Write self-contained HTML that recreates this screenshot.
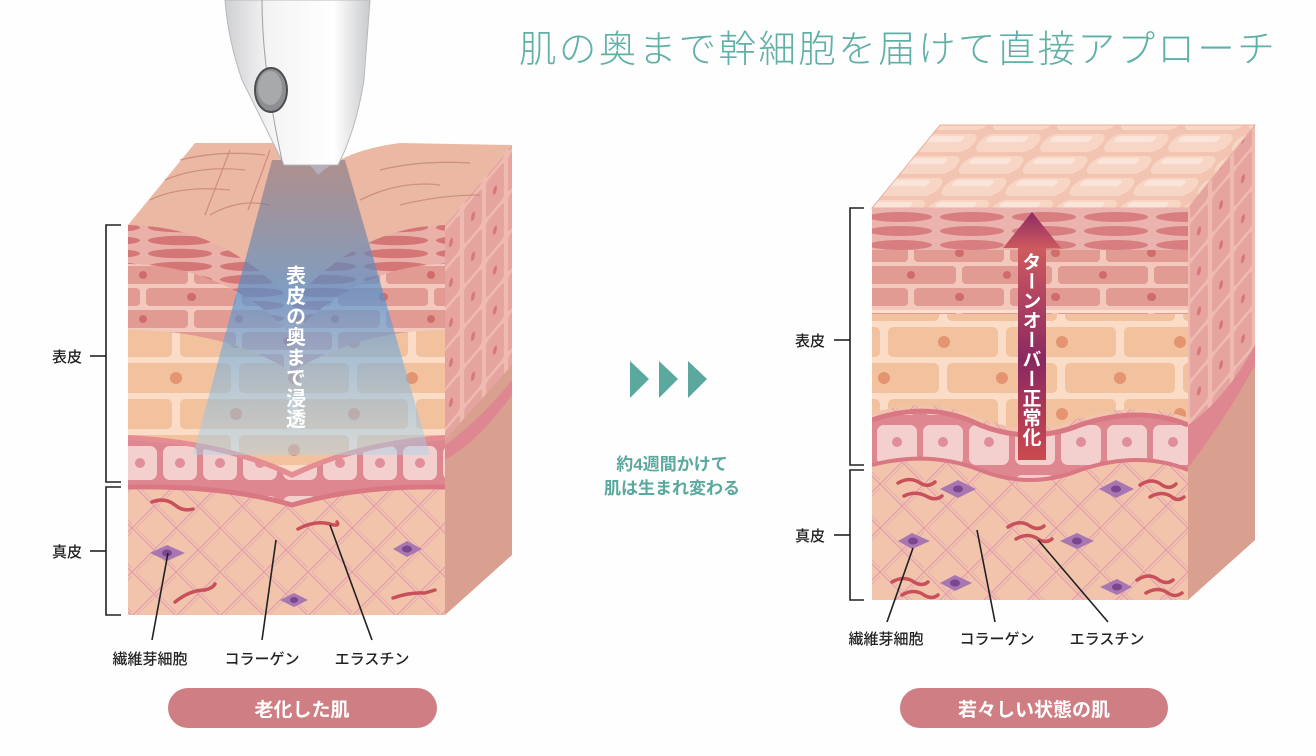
<!DOCTYPE html>
<html><head><meta charset="utf-8"><style>
html,body{margin:0;padding:0;background:#fefefe;}
svg{display:block;}
text{font-family:"Liberation Sans","Noto Sans CJK JP",sans-serif;}
</style></head><body>
<svg width="1316" height="756" viewBox="0 0 1316 756" xmlns="http://www.w3.org/2000/svg">
<defs>
<pattern id="corn" width="72" height="13" patternUnits="userSpaceOnUse"><rect width="72" height="13" fill="#eab0aa"/><ellipse cx="36" cy="6.5" rx="32" ry="4.8" fill="#d57676"/></pattern>
<pattern id="corn2" width="72" height="14" patternUnits="userSpaceOnUse"><rect width="72" height="14" fill="#ebb3ad"/><ellipse cx="36" cy="7" rx="32" ry="5" fill="#d97e80"/></pattern>
<pattern id="gran" width="96" height="44" patternUnits="userSpaceOnUse"><rect width="96" height="44" fill="#f4c9bd"/>
<rect x="2" y="2" width="90" height="18" rx="4" fill="#e29b92"/><circle cx="47" cy="11" r="4" fill="#d06c6a"/>
<rect x="-46" y="24" width="90" height="18" rx="4" fill="#e29b92"/><rect x="50" y="24" width="90" height="18" rx="4" fill="#e29b92"/><circle cx="95" cy="33" r="4" fill="#d06c6a"/><circle cx="0" cy="33" r="4" fill="#d06c6a"/></pattern>
<pattern id="spin" width="118" height="72" patternUnits="userSpaceOnUse"><rect width="118" height="72" fill="#fbdcc6"/>
<rect x="3" y="3" width="110" height="30" rx="5" fill="#f2c29e"/><circle cx="58" cy="18" r="6" fill="#e59472"/>
<rect x="-56" y="39" width="110" height="30" rx="5" fill="#f2c29e"/><rect x="62" y="39" width="110" height="30" rx="5" fill="#f2c29e"/><circle cx="0" cy="54" r="6" fill="#e59472"/><circle cx="118" cy="54" r="6" fill="#e59472"/></pattern>
<pattern id="basal" x="0" y="440" width="40" height="50" patternUnits="userSpaceOnUse"><rect width="40" height="50" fill="#de8791"/><rect x="3" y="6" width="34" height="34" rx="7" fill="#f3d0ce"/><circle cx="20" cy="23" r="5" fill="#e08e9b"/></pattern>
<pattern id="basal2" x="0" y="420" width="46" height="50" patternUnits="userSpaceOnUse"><rect width="46" height="50" fill="#de8791"/><rect x="3" y="5" width="40" height="40" rx="7" fill="#f3d0ce"/><circle cx="23" cy="22" r="5" fill="#e08e9b"/></pattern>
<pattern id="derm" width="44" height="44" patternUnits="userSpaceOnUse"><rect width="44" height="44" fill="#f1c4ab"/>
<path d="M0 0L44 44M-22 22L22 66M22 -22L66 22M44 0L0 44M22 -22L-22 22M66 22L22 66" stroke="#e39aae" stroke-width="1.1" fill="none"/>
<path d="M4 0L48 44M48 0L4 44" stroke="#e8a9b7" stroke-width="0.8" fill="none"/></pattern>
<pattern id="side" width="22" height="40" patternUnits="userSpaceOnUse" patternTransform="skewY(-50)"><rect width="22" height="40" fill="#efbab0"/><rect x="2" y="2" width="18" height="36" rx="3" fill="#e5a49f"/><ellipse cx="11" cy="20" rx="2" ry="4" fill="#d77878"/></pattern>
<pattern id="tiles" width="64" height="22" patternUnits="userSpaceOnUse" patternTransform="skewX(-38)"><rect width="64" height="22" fill="#f2c4b1"/><rect x="2" y="2" width="60" height="18" rx="9" fill="#f7d6c6"/><rect x="8" y="4" width="40" height="6" rx="3" fill="#fbe5da"/></pattern>
<linearGradient id="cone" x1="0" y1="0" x2="0" y2="1"><stop offset="0" stop-color="#7d6e7c" stop-opacity="0.55"/><stop offset="0.45" stop-color="#4f92d0" stop-opacity="0.7"/><stop offset="1" stop-color="#a9d4ec" stop-opacity="0.45"/></linearGradient>
<linearGradient id="arr" x1="0" y1="0" x2="0" y2="1"><stop offset="0" stop-color="#8c2a64"/><stop offset="0.15" stop-color="#cf5a5e"/><stop offset="0.6" stop-color="#8a2862"/><stop offset="1" stop-color="#cc4a4e"/></linearGradient>
<linearGradient id="dev" x1="0" y1="0" x2="1" y2="0"><stop offset="0" stop-color="#cfd0d2"/><stop offset="0.3" stop-color="#f4f4f5"/><stop offset="0.75" stop-color="#ffffff"/><stop offset="1" stop-color="#c9cacc"/></linearGradient>
<clipPath id="lfront"><path d="M128,225 Q225,226 292,302 Q360,226 445,225 L445,615 L128,615Z"/></clipPath>
<clipPath id="rfront"><rect x="872" y="208" width="316" height="392"/></clipPath>
</defs>

<text x="519" y="62" font-size="37.5" fill="#5fb0a6" letter-spacing="2.4" style="font-family:'Noto Sans CJK JP',sans-serif;font-weight:300">肌の奥まで幹細胞を届けて直接アプローチ</text>

<!-- LEFT CUBE -->
<path d="M445,225 L512,145 L512,555 L445,615Z" fill="url(#side)"/>
<path d="M445,440 L512,365 L512,555 L445,615Z" fill="#d9a08f"/>
<path d="M445,445 Q480,420 512,380 L512,395 Q480,440 445,460Z" fill="#de8791"/>
<path d="M128,225 L195,143 L275,143 Q300,150 318,175 Q345,150 400,143 L512,145 L445,225 Q360,226 292,302 Q225,226 128,225Z" fill="#ebb9a3"/>
<g stroke="#c88674" stroke-width="1.3" fill="none" opacity="0.8">
<path d="M150,200 Q180,185 230,190 M165,180 Q200,165 245,170 M180,160 Q220,150 265,155 M210,215 Q240,198 270,205 M360,200 Q400,180 440,185 M380,170 Q420,160 470,163 M400,205 Q440,195 480,195 M230,150 L205,215 M270,150 L248,210"/>
</g>
<g clip-path="url(#lfront)">
<rect x="128" y="220" width="317" height="400" fill="url(#derm)"/>
<path d="M128,225 Q225,226 292,302 Q360,226 445,225 L445,487 Q360,485 292,505 Q225,485 128,487Z" fill="url(#basal)"/>
<path d="M128,487 Q225,485 292,505 Q360,485 445,487" stroke="#d97883" stroke-width="5" fill="none"/>
<path d="M128,225 Q225,226 292,302 Q360,226 445,225 L445,440 Q360,445 292,478 Q225,445 128,440Z" fill="#e48e94"/>
<path d="M128,225 Q225,226 292,302 Q360,226 445,225 L445,435 Q360,440 292,472 Q225,440 128,435Z" fill="url(#spin)"/>
<path d="M128,225 Q225,226 292,302 Q360,226 445,225 L445,330 Q360,330 292,372 Q225,330 128,330Z" fill="url(#gran)"/>
<path d="M128,225 Q225,226 292,302 Q360,226 445,225 L445,264 Q360,265 292,335 Q225,265 128,264Z" fill="url(#corn)"/>
</g>
<g fill="#a877b2"><path d="M150,553 L167,545 L185,553 L167,561Z"/><path d="M393,549 L407,541 L422,549 L407,557Z"/><path d="M280,600 L294,593 L308,600 L294,607Z"/></g>
<g fill="#7b4590"><ellipse cx="167" cy="553" rx="5" ry="3.5"/><ellipse cx="407" cy="549" rx="5" ry="3.5"/><ellipse cx="294" cy="600" rx="4" ry="3"/></g>
<g stroke="#c9505a" stroke-width="3.5" fill="none" stroke-linecap="round">
<path d="M152,502 Q165,497 175,505 Q183,512 193,509"/><path d="M298,529 Q315,520 330,524 Q340,527 337,522"/><path d="M175,602 Q190,590 205,590 Q213,588 215,584"/><path d="M393,598 Q410,592 425,593 Q435,590 435,590"/></g>
<polygon points="272,160 345,160 430,455 193,455" fill="url(#cone)"/>
<text x="296" y="265" font-size="20" fill="#fff" style="writing-mode:vertical-rl;font-family:'Noto Sans CJK JP',sans-serif;font-weight:700" letter-spacing="0.5">表皮の奥まで浸透</text>
<path d="M225,0 L370,0 L364,80 Q356,130 338,165 L284,165 Q262,120 242,80 Q228,40 225,0Z" fill="url(#dev)" stroke="#b8b9bb" stroke-width="1"/>
<path d="M262,0 Q262,70 283,165" stroke="#a0a1a3" stroke-width="1" fill="none"/>
<ellipse cx="271" cy="90" rx="16" ry="22" fill="#8e8f92" stroke="#4d4e50" stroke-width="2"/>
<ellipse cx="270" cy="88" rx="12" ry="17" fill="#a8a9ab"/>

<g stroke="#222" stroke-width="1.6" fill="none">
<path d="M121,225 H106 V482 H121"/><path d="M106,356 H90"/>
<path d="M121,487 H106 V615 H121"/><path d="M106,551 H90"/>
<path d="M168,553 L152,640 M276,540 L262,640 M330,525 L372,640"/>
</g>
<g font-size="15" fill="#222" style="font-family:'Noto Sans CJK JP',sans-serif" font-weight="500">
<text x="52" y="362">表皮</text><text x="52" y="557">真皮</text>
<text x="150" y="664" text-anchor="middle">繊維芽細胞</text>
<text x="262" y="664" text-anchor="middle">コラーゲン</text>
<text x="372" y="664" text-anchor="middle">エラスチン</text>
</g>
<rect x="168" y="688" width="269" height="40" rx="20" fill="#cf7e83"/>
<text x="302" y="716" text-anchor="middle" font-size="19" fill="#fff" style="font-family:'Noto Sans CJK JP',sans-serif;font-weight:700">老化した肌</text>

<g fill="#5aa89e"><polygon points="630,361 649,379 630,398"/><polygon points="659,361 678,379 659,398"/><polygon points="688,361 707,379 688,398"/></g>
<g font-size="17" fill="#5aa89e" text-anchor="middle" style="font-family:'Noto Sans CJK JP',sans-serif;font-weight:700">
<text x="672" y="470">約4週間かけて</text><text x="672" y="494">肌は生まれ変わる</text></g>

<!-- RIGHT CUBE -->
<path d="M1188,208 L1255,125 L1255,540 L1188,600Z" fill="url(#side)"/>
<path d="M1188,440 L1255,360 L1255,540 L1188,600Z" fill="#d9a08f"/>
<path d="M1188,425 Q1225,400 1255,345 L1255,365 Q1225,420 1188,468Z" fill="#de8791"/>
<path d="M872,208 L940,125 L1255,125 L1188,208Z" fill="url(#tiles)"/>
<path d="M872,208 L940,125 L1255,125 L1188,208Z" fill="none" stroke="#e8b09f" stroke-width="1"/>
<g clip-path="url(#rfront)">
<rect x="872" y="208" width="316" height="392" fill="url(#derm)"/>
<path d="M872,420 Q930,400 980,425 Q1030,445 1080,425 Q1140,405 1188,425 L1188,470 Q1140,450 1080,470 Q1030,490 980,470 Q930,450 872,465Z" fill="url(#basal2)"/>
<path d="M872,420 Q930,400 980,425 Q1030,445 1080,425 Q1140,405 1188,425" stroke="#d97883" stroke-width="5" fill="none"/>
<path d="M872,465 Q930,450 980,470 Q1030,490 1080,470 Q1140,450 1188,470" stroke="#d97883" stroke-width="4" fill="none"/>
<path d="M872,208 H1188 V418 Q1140,400 1080,418 Q1030,438 980,418 Q930,395 872,413Z" fill="url(#spin)"/>
<rect x="872" y="250" width="316" height="64" fill="url(#gran)"/>
<rect x="872" y="310" width="316" height="3" fill="#fbe0cf"/>
<rect x="872" y="208" width="316" height="42" fill="url(#corn2)"/>
</g>
<g fill="#a877b2"><path d="M940,489 L958,480 L976,489 L958,498Z"/><path d="M1099,489 L1116,480 L1134,489 L1116,498Z"/><path d="M898,541 L912,533 L930,541 L912,549Z"/><path d="M1060,541 L1077,533 L1094,541 L1077,549Z"/><path d="M940,583 L955,575 L972,583 L955,591Z"/><path d="M1100,587 L1117,579 L1132,587 L1117,595Z"/></g>
<g fill="#7b4590"><ellipse cx="958" cy="489" rx="5" ry="3.5"/><ellipse cx="1116" cy="489" rx="5" ry="3.5"/><ellipse cx="913" cy="541" rx="5" ry="3.5"/><ellipse cx="1077" cy="541" rx="5" ry="3.5"/><ellipse cx="955" cy="583" rx="5" ry="3.5"/><ellipse cx="1117" cy="587" rx="5" ry="3.5"/></g>
<g stroke="#c9505a" stroke-width="3.5" fill="none" stroke-linecap="round">
<path d="M898,483 Q910,476 920,483 Q928,488 935,482"/><path d="M904,496 Q916,490 928,497 Q936,501 942,496"/>
<path d="M1140,485 Q1152,477 1162,485 Q1170,490 1176,484"/><path d="M1150,497 Q1162,490 1172,497 Q1178,502 1184,497"/>
<path d="M1008,527 Q1020,519 1030,526 Q1038,531 1044,526"/><path d="M1016,539 Q1028,532 1038,539 Q1046,544 1052,539"/>
<path d="M892,582 Q904,575 914,582 Q922,587 928,582"/><path d="M902,595 Q914,588 924,595 Q932,600 938,595"/>
<path d="M1137,580 Q1149,572 1159,580 Q1167,585 1173,580"/><path d="M1146,593 Q1158,586 1168,593 Q1175,598 1182,593"/></g>
<path d="M1018,460 L1018,248 L1003,248 L1032,212 L1061,248 L1046,248 L1046,460Z" fill="url(#arr)"/>
<text x="1032" y="252" font-size="19" fill="#fff" style="writing-mode:vertical-rl;font-family:'Noto Sans CJK JP',sans-serif;font-weight:700" letter-spacing="0.5">ターンオーバー正常化</text>

<g stroke="#222" stroke-width="1.6" fill="none">
<path d="M864,208 H850 V465 H864"/><path d="M850,340 H834"/>
<path d="M864,470 H850 V600 H864"/><path d="M850,535 H834"/>
<path d="M913,548 L887,622 M977,530 L995,622 M1038,540 L1108,622"/>
</g>
<g font-size="15" fill="#222" style="font-family:'Noto Sans CJK JP',sans-serif" font-weight="500">
<text x="795" y="346">表皮</text><text x="795" y="541">真皮</text>
<text x="886" y="644" text-anchor="middle">繊維芽細胞</text>
<text x="997" y="644" text-anchor="middle">コラーゲン</text>
<text x="1107" y="644" text-anchor="middle">エラスチン</text>
</g>
<rect x="900" y="688" width="268" height="40" rx="20" fill="#cf7e83"/>
<text x="1034" y="716" text-anchor="middle" font-size="19" fill="#fff" style="font-family:'Noto Sans CJK JP',sans-serif;font-weight:700">若々しい状態の肌</text>
</svg>
</body></html>
